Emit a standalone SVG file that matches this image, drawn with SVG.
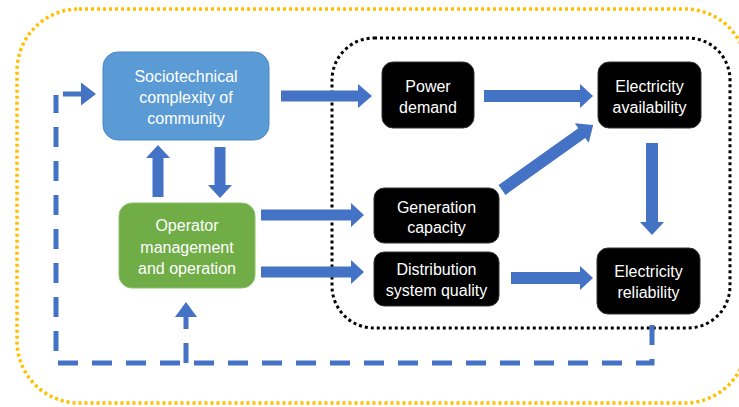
<svg xmlns="http://www.w3.org/2000/svg" width="739" height="407" viewBox="0 0 739 407">
<style>
.lbl{font-family:"Liberation Sans",Arial,sans-serif;font-size:16px;fill:#fff;text-anchor:middle}
.arw{fill:#4472C4}
.dash{fill:none;stroke:#4472C4;stroke-width:5;stroke-dasharray:20 14}
.blk{fill:#000;stroke:#333;stroke-width:1}
</style>
<rect width="739" height="407" fill="#fff"/>
<g id="boundaries">
<rect x="17" y="9" width="730" height="394" rx="62" fill="none" stroke="#FFC000" stroke-width="3.5" stroke-dasharray="3 3"/>
<rect x="332" y="38" width="398" height="290" rx="42" fill="none" stroke="#000" stroke-width="3" stroke-dasharray="3 3"/>
</g>
<g id="connectors">
<polygon class="arw" points="281,90.5 358,90.5 358,84 372,96 358,108 358,101.5 281,101.5"/>
<polygon class="arw" points="484,90 580,90 580,84 593,96 580,108 580,102 484,102"/>
<polygon class="arw" points="261,209.5 351,209.5 351,203 364,215 351,227 351,220.5 261,220.5"/>
<polygon class="arw" points="261,266.5 351,266.5 351,260 364,272 351,284 351,277.5 261,277.5"/>
<polygon class="arw" points="511,272 580,272 580,266 593,278 580,290 580,284 511,284"/>
<polygon class="arw" points="646,143 658,143 658,222 664,222 652,235 640,222 646,222"/>
<polygon class="arw" points="214.5,147 225.5,147 225.5,185 232,185 220,198 208,185 214.5,185"/>
<polygon class="arw" points="152.5,197 163.5,197 163.5,158 170,158 158,145 146,158 152.5,158"/>
<g transform="translate(502,190) rotate(-35.5)">
<polygon class="arw" points="0,-6 98,-6 98,-12 112,0 98,12 98,6 0,6"/>
</g>
<path class="dash" d="M652,325 V363 H56 V95"/>
<path class="dash" d="M186,363 V317" stroke-dasharray="15 20 12"/>
<polygon class="arw" points="63,91.5 81,91.5 81,82.5 96,94 81,105.5 81,96.5 63,96.5"/>
<polygon class="arw" points="175,317 186,302 197,317"/>
</g>
<g id="socio">
<rect x="103" y="52" width="166" height="88" rx="15" fill="#5B9BD5" stroke="#4A86C0" stroke-width="1"/>
<text class="lbl"><tspan x="186" y="82">Sociotechnical</tspan><tspan x="186" y="103">complexity of</tspan><tspan x="186" y="124">community</tspan></text>
</g>
<g id="operator">
<rect x="119" y="203" width="136" height="85" rx="13" fill="#70AD47" stroke="#8CC068" stroke-width="1"/>
<text class="lbl"><tspan x="187" y="231">Operator</tspan><tspan x="187" y="253">management</tspan><tspan x="187" y="274">and operation</tspan></text>
</g>
<g id="power">
<rect class="blk" x="382" y="62" width="92" height="66" rx="11"/>
<text class="lbl"><tspan x="428" y="92">Power</tspan><tspan x="428" y="113">demand</tspan></text>
</g>
<g id="availability">
<rect class="blk" x="598" y="62" width="103" height="66" rx="11"/>
<text class="lbl"><tspan x="649.5" y="92">Electricity</tspan><tspan x="649.5" y="113">availability</tspan></text>
</g>
<g id="generation">
<rect class="blk" x="374" y="188" width="125" height="55" rx="10"/>
<text class="lbl"><tspan x="436.5" y="213">Generation</tspan><tspan x="436.5" y="233">capacity</tspan></text>
</g>
<g id="distribution">
<rect class="blk" x="374" y="252" width="125" height="54" rx="10"/>
<text class="lbl"><tspan x="436.5" y="275">Distribution</tspan><tspan x="436.5" y="296">system quality</tspan></text>
</g>
<g id="reliability">
<rect class="blk" x="597" y="248" width="103" height="66" rx="11"/>
<text class="lbl"><tspan x="648.5" y="277">Electricity</tspan><tspan x="648.5" y="298">reliability</tspan></text>
</g>
</svg>
